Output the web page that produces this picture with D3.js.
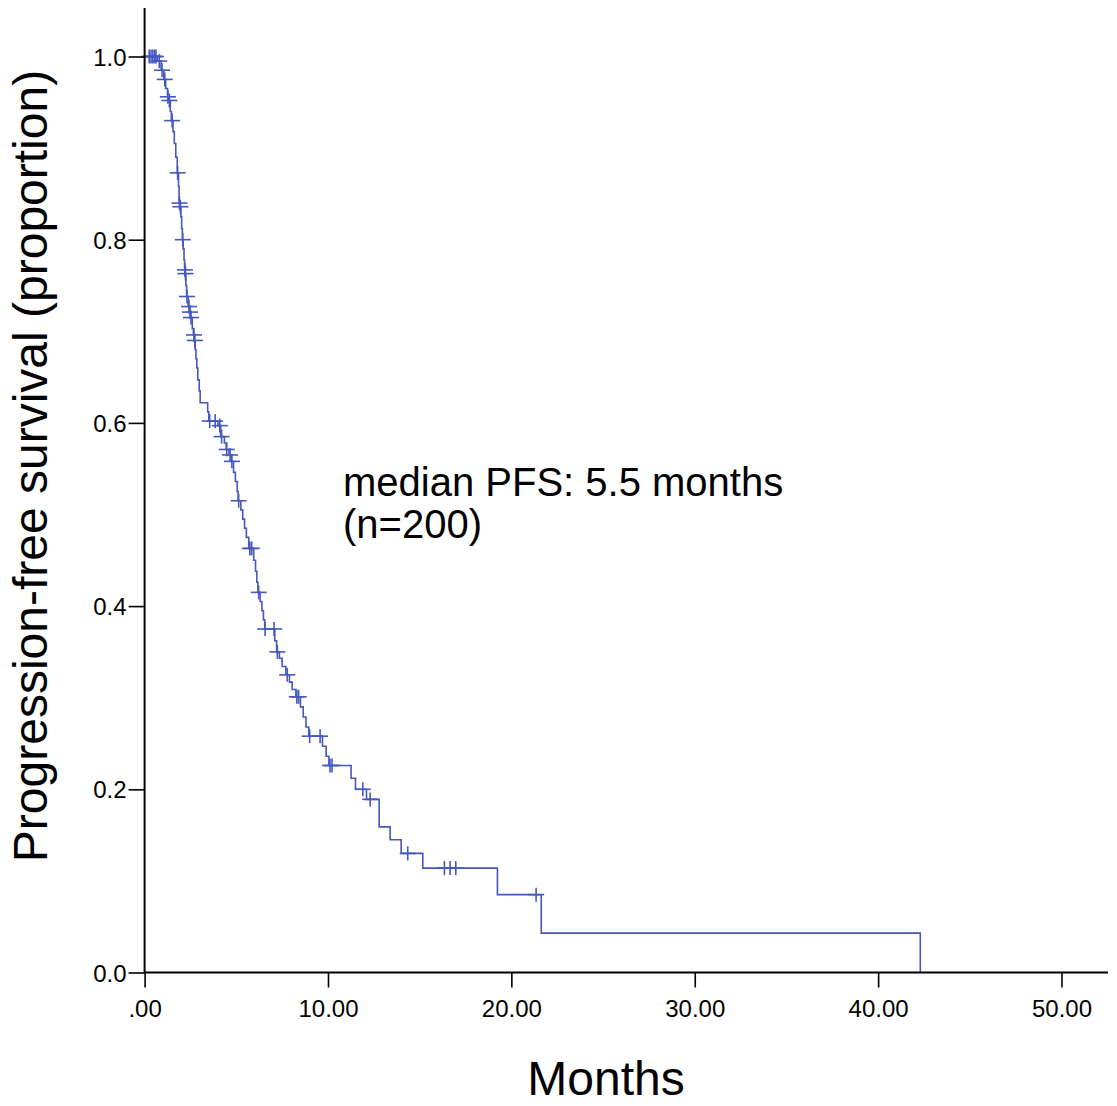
<!DOCTYPE html>
<html>
<head>
<meta charset="utf-8">
<script src="https://cdn.jsdelivr.net/npm/d3@7"></script>
<style>
  body { margin: 0; background: #fff; }
  svg { display: block; font-family: "Liberation Sans", Arial, sans-serif; }
</style>
</head>
<body>
<svg id="chart" width="1117" height="1106"></svg>
<script>
////////////
// DATA
////////////

// event times (months) and survival proportion right after each drop
const eventTimes = [
  0.70, 0.90, 1.05, 1.15, 1.25, 1.30, 1.40, 1.46, 1.55, 1.62,
  1.70, 1.78, 1.85, 1.88, 1.92, 1.98, 2.02, 2.06, 2.10, 2.15,
  2.18, 2.21, 2.25, 2.29, 2.38, 2.45, 2.50, 2.60, 2.66, 2.71,
  2.76, 2.80, 2.85, 2.90, 2.98, 3.03, 3.44, 3.50, 4.00, 4.15,
  4.35, 4.45, 4.60, 4.72, 4.85, 4.95, 5.05, 5.10, 5.25, 5.35,
  5.45, 5.55, 5.68, 5.95, 6.05, 6.12, 6.18, 6.30, 6.40, 6.48,
  6.55, 7.10, 7.20, 7.35, 7.50, 7.70, 7.90, 8.05, 8.25, 8.50,
  8.65, 8.80, 8.95, 9.70, 9.90, 10.05, 11.26, 11.50, 12.10, 12.79,
  13.39, 13.99, 15.17, 19.24, 21.63, 42.30
];
const survival = [
  0.995, 0.985, 0.975, 0.965, 0.956, 0.952, 0.940, 0.930, 0.918, 0.905,
  0.890, 0.873, 0.858, 0.840, 0.836, 0.825, 0.812, 0.800, 0.790, 0.778,
  0.767, 0.763, 0.750, 0.738, 0.727, 0.721, 0.715, 0.703, 0.696, 0.690,
  0.680, 0.670, 0.660, 0.647, 0.635, 0.622, 0.612, 0.602, 0.597, 0.585,
  0.578, 0.571, 0.565, 0.558, 0.546, 0.536, 0.525, 0.515, 0.505, 0.495,
  0.485, 0.475, 0.463, 0.450, 0.438, 0.426, 0.415, 0.405, 0.395, 0.385,
  0.375, 0.362, 0.350, 0.343, 0.334, 0.325, 0.317, 0.309, 0.301, 0.290,
  0.279, 0.268, 0.258, 0.247, 0.236, 0.226, 0.212, 0.200, 0.189, 0.159,
  0.145, 0.130, 0.114, 0.085, 0.043, 0.000
];

// censored observations (months)
const censorTimes = [
  0.25, 0.35, 0.45, 0.55, 0.62, 0.80, 0.95, 1.10, 1.27, 1.35,
  1.50, 1.80, 1.90, 1.95, 2.08, 2.20, 2.23, 2.31, 2.42, 2.48,
  2.53, 2.69, 2.74, 3.55, 3.85, 4.10, 4.20, 4.48, 4.66, 4.76,
  5.13, 5.74, 5.84, 6.22, 6.57, 7.06, 7.24, 7.78, 8.30, 8.40,
  9.00, 9.57, 10.11, 10.22, 11.90, 12.30, 14.35, 16.35, 16.66, 16.97,
  21.35
];

const xTicks = [0, 10, 20, 30, 40, 50];
const xTickLabels = [".00", "10.00", "20.00", "30.00", "40.00", "50.00"];
const yTicks = [0, 0.2, 0.4, 0.6, 0.8, 1.0];
const yTickLabels = ["0.0", "0.2", "0.4", "0.6", "0.8", "1.0"];

const xTitle = "Months";
const yTitle = "Progression-free survival (proportion)";
const noteLines = ["median PFS: 5.5 months", "(n=200)"];

////////////
// SETTINGS
////////////
const lineColor = "#4658bd";
const svg = d3.select("#chart");

const x = d3.scaleLinear().domain([0, 50]).range([144.6, 1061.5]);
const y = d3.scaleLinear().domain([0, 1]).range([972.5, 56.5]);

////////////
// DRAWING
////////////

// step curve
const steps = [[0, 1]].concat(eventTimes.map((t, i) => [t, survival[i]]));
const line = d3.line()
  .x(d => x(d[0]))
  .y(d => y(d[1]))
  .curve(d3.curveStepAfter);

svg.append("path")
  .datum(steps)
  .attr("d", line)
  .attr("fill", "none")
  .attr("stroke", lineColor)
  .attr("stroke-width", 1.6);

// survival value at a given time (value of the step curve)
function survAt(t) {
  let s = 1;
  steps.forEach(d => { if (d[0] <= t) s = d[1]; });
  return s;
}

// censor marks
const marks = svg.append("g").attr("class", "censors")
  .attr("stroke", lineColor)
  .attr("stroke-width", 1.6);

marks.selectAll("g")
  .data(censorTimes)
  .join("g")
  .attr("transform", d => `translate(${x(d)},${y(survAt(d))})`)
  .each(function () {
    const g = d3.select(this);
    g.append("line").attr("x1", -8).attr("x2", 8).attr("y1", 0).attr("y2", 0);
    g.append("line").attr("x1", 0).attr("x2", 0).attr("y1", -7).attr("y2", 7);
  });

// axes
const yAxis = d3.axisLeft(y)
  .tickValues(yTicks)
  .tickFormat((d, i) => yTickLabels[i])
  .tickSize(16)
  .tickPadding(2);

const xAxis = d3.axisBottom(x)
  .tickValues(xTicks)
  .tickFormat((d, i) => xTickLabels[i])
  .tickSize(15)
  .tickPadding(12);

const gy = svg.append("g")
  .attr("transform", `translate(${x(0)},0)`)
  .call(yAxis);
gy.select(".domain").remove();
gy.selectAll(".tick line").attr("stroke", "#000").attr("stroke-width", 1.6);
gy.selectAll(".tick text")
  .attr("fill", "#000")
  .style("font-size", "24px")
  .attr("dy", "0.36em");

const gx = svg.append("g")
  .attr("transform", `translate(0,${y(0)})`)
  .call(xAxis);
gx.select(".domain").remove();
gx.selectAll(".tick line").attr("stroke", "#000").attr("stroke-width", 1.6);
gx.selectAll(".tick text")
  .attr("fill", "#000")
  .style("font-size", "24px");

// axis lines
svg.append("line")
  .attr("x1", x(0)).attr("x2", x(0))
  .attr("y1", 8).attr("y2", y(0))
  .attr("stroke", "#000").attr("stroke-width", 2);
svg.append("line")
  .attr("x1", x(0)).attr("x2", 1108)
  .attr("y1", y(0)).attr("y2", y(0))
  .attr("stroke", "#000").attr("stroke-width", 2);

// titles
svg.append("text")
  .attr("x", 606)
  .attr("y", 1095)
  .attr("text-anchor", "middle")
  .style("font-size", "48px")
  .text(xTitle);

svg.append("text")
  .attr("transform", "translate(47,466) rotate(-90)")
  .attr("text-anchor", "middle")
  .style("font-size", "48px")
  .text(yTitle);

// note
svg.append("g").selectAll("text")
  .data(noteLines)
  .join("text")
  .attr("x", 343)
  .attr("y", (d, i) => 496 + i * 42)
  .style("font-size", "40px")
  .text(d => d);
</script>
</body>
</html>
